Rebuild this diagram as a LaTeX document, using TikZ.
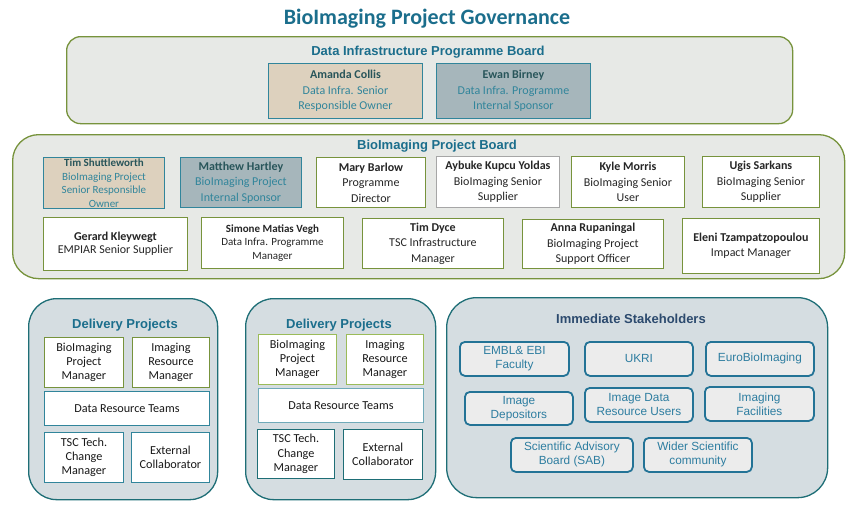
\documentclass[tikz,border=0pt]{standalone}
\usepackage{fontspec}
\setmainfont{Carlito}
\newfontfamily\arialfont{Liberation Sans}
\definecolor{titleblue}{RGB}{27,110,140}
\definecolor{boardgreen}{RGB}{119,147,60}
\definecolor{lightgreen}{RGB}{155,187,89}
\definecolor{boardfill}{RGB}{231,233,230}
\definecolor{groupfill}{RGB}{213,221,225}
\definecolor{groupline}{RGB}{30,110,118}
\definecolor{tealline}{RGB}{49,133,155}
\definecolor{tanfill}{RGB}{221,209,190}
\definecolor{slatefill}{RGB}{166,182,187}
\definecolor{namedark}{RGB}{40,85,90}
\definecolor{stakeline}{RGB}{35,115,150}
\definecolor{staketext}{RGB}{45,125,160}
\definecolor{stakefill}{RGB}{236,236,236}
\definecolor{staketitle}{RGB}{44,74,110}
\tikzset{
  sz/.style 2 args={minimum width=#1pt,minimum height=#2pt},
  board/.style={draw=boardgreen,line width=1.3pt,fill=boardfill,anchor=north west,inner sep=0pt},
  group/.style={draw=groupline,line width=1.3pt,fill=groupfill,anchor=north west,inner sep=0pt,rounded corners=28pt},
  boardtitle/.style={font=\arialfont\bfseries\fontsize{13}{15}\selectfont,text=titleblue},
  role/.style={anchor=north west,align=center,inner sep=0pt,line width=0.9pt,font=\fontsize{12}{15.5}\selectfont},
  tanbox/.style={role,draw=tealline,fill=tanfill,text=tealline},
  slatebox/.style={role,draw=tealline,fill=slatefill,text=tealline},
  whitebox/.style={role,draw=boardgreen,fill=white,text=black!85},
  small/.style={font=\fontsize{11}{13.5}\selectfont},
  dbox/.style={anchor=north west,align=center,inner sep=0pt,line width=0.9pt,fill=white,text=black!90,
    font=\fontsize{12.2}{14.3}\selectfont},
  stake/.style={anchor=north west,align=center,inner sep=0pt,line width=1.8pt,rounded corners=5pt,
    draw=stakeline,fill=stakefill,text=staketext,font=\arialfont\fontsize{11.8}{14}\selectfont}
}
\begin{document}
\begin{tikzpicture}[x=1pt,y=-1pt]
\useasboundingbox (0,0) rectangle (855,512);
\node[text=titleblue,font=\bfseries\fontsize{22}{24}\selectfont] (title) at (427,19) {BioImaging Project Governance};

% programme board
\node[board,rounded corners=14pt,sz={726}{87}] (dipb) at (66,36) {};
\node[boardtitle] (dipbtitle) at (428,52) {Data Infrastructure Programme Board};
\node[tanbox,sz={154}{55}] (collis) at (268,63) {\textcolor{namedark}{\textbf{Amanda Collis}}\\Data Infra. Senior\\Responsible Owner};
\node[slatebox,sz={154}{55}] (birney) at (436,63) {\textcolor{namedark}{\textbf{Ewan Birney}}\\Data Infra. Programme\\Internal Sponsor};

% project board
\node[board,rounded corners=26pt,sz={832}{144}] (bipb) at (12,134) {};
\node[boardtitle] (bipbtitle) at (437,146.5) {BioImaging Project Board};
\node[tanbox,small,sz={121}{51}] (shuttleworth) at (43,157) {\textcolor{namedark}{\textbf{Tim Shuttleworth}}\\BioImaging Project\\Senior Responsible\\Owner};
\node[slatebox,sz={121}{50}] (hartley) at (180,157) {\textcolor{namedark}{\textbf{Matthew Hartley}}\\BioImaging Project\\Internal Sponsor};
\node[whitebox,sz={109}{50}] (barlow) at (316,157) {\textbf{Mary Barlow}\\Programme\\Director};
\node[whitebox,draw=black!35,sz={123}{51}] (yoldas) at (436,156) {\textbf{Aybuke Kupcu Yoldas}\\BioImaging Senior\\Supplier};
\node[whitebox,sz={113}{51}] (morris) at (571,156) {\textbf{Kyle Morris}\\BioImaging Senior\\User};
\node[whitebox,sz={117}{51}] (sarkans) at (702,156) {\textbf{Ugis Sarkans}\\BioImaging Senior\\Supplier};
\node[whitebox,font=\fontsize{12}{13.5}\selectfont,sz={144}{53}] (kleywegt) at (43,217) {\textbf{Gerard Kleywegt}\\EMPIAR Senior Supplier};
\node[whitebox,small,sz={142}{51}] (vegh) at (201,217) {\textbf{Simone Matias Vegh}\\Data Infra. Programme\\Manager};
\node[whitebox,sz={141}{50}] (dyce) at (362,218) {\textbf{Tim Dyce}\\TSC Infrastructure\\Manager};
\node[whitebox,sz={141}{49}] (rupaningal) at (522,219) {\textbf{Anna Rupaningal}\\BioImaging Project\\Support Officer};
\node[whitebox,font=\fontsize{12}{14.5}\selectfont,sz={137}{55}] (tzampatzopoulou) at (682,218) {\textbf{Eleni Tzampatzopoulou}\\Impact Manager};

% delivery projects
\node[group,sz={189}{201}] (dpa) at (28,298) {};
\node[boardtitle] (dpatitle) at (125,325.5) {Delivery Projects};
\node[dbox,draw=boardgreen,sz={79}{50}] (dpapm) at (44,337) {BioImaging\\Project\\Manager};
\node[dbox,draw=boardgreen,sz={77}{50}] (dparm) at (132,337) {Imaging\\Resource\\Manager};
\node[dbox,draw=tealline,sz={165}{34}] (dpateams) at (44,391) {Data Resource Teams};
\node[dbox,draw=tealline,sz={79}{50}] (dpatsc) at (44,432) {TSC Tech.\\Change\\Manager};
\node[dbox,draw=tealline,sz={78}{50}] (dpaext) at (131,432) {External\\Collaborator};

\node[group,sz={190}{201}] (dpb) at (245,298) {};
\node[boardtitle] (dpbtitle) at (339,325.5) {Delivery Projects};
\node[dbox,draw=lightgreen,sz={78}{50}] (dpbpm) at (258,334) {BioImaging\\Project\\Manager};
\node[dbox,draw=lightgreen,sz={77}{50}] (dpbrm) at (346,334) {Imaging\\Resource\\Manager};
\node[dbox,draw=tealline!70,sz={165}{34}] (dpbteams) at (258,388) {Data Resource Teams};
\node[dbox,draw=groupline,sz={77}{49}] (dpbtsc) at (257,429) {TSC Tech.\\Change\\Manager};
\node[dbox,draw=groupline,sz={79}{50}] (dpbext) at (343,429) {External\\Collaborator};

% stakeholders
\node[group,rounded corners=30pt,sz={381}{200}] (stakeholders) at (446,297) {};
\node[boardtitle,text=staketitle] (staketitle) at (631,319) {Immediate Stakeholders};
\node[stake,sz={109}{34}] (embl) at (459,341) {EMBL\& EBI\\Faculty};
\node[stake,sz={108}{34}] (ukri) at (584,341) {UKRI};
\node[stake,sz={108}{34}] (eurobi) at (705,341) {EuroBioImaging};
\node[stake,sz={108}{33}] (depositors) at (464,391) {Image\\Depositors};
\node[stake,sz={108}{34}] (idrusers) at (584,387) {Image Data\\Resource Users};
\node[stake,sz={109}{34}] (facilities) at (704,386) {Imaging\\Facilities};
\node[stake,sz={122}{34}] (sab) at (510,437) {Scientific Advisory\\Board (SAB)};
\node[stake,sz={108}{34}] (wider) at (643,437) {Wider Scientific\\community};
\end{tikzpicture}
\end{document}
